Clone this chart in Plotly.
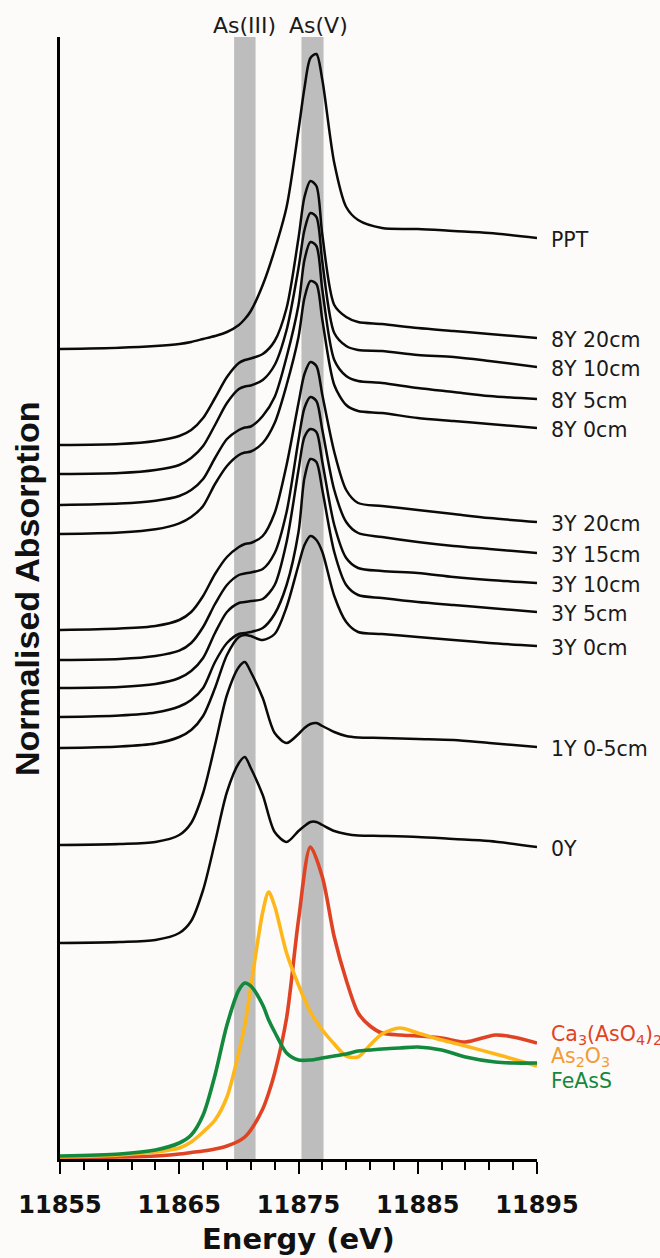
import plotly.graph_objects as go

# ---------------- data ----------------
energy = [11855, 11860, 11863, 11865, 11866, 11867, 11868, 11869, 11870, 11870.5,
          11871, 11872, 11873, 11874, 11875, 11875.5, 11876, 11876.5, 11877, 11878,
          11879, 11880, 11882, 11885, 11888, 11891, 11895]

ppt = [8.10, 8.113, 8.13, 8.15, 8.17, 8.20, 8.23, 8.27, 8.34, 8.40, 8.48, 8.74, 9.09, 9.52,
       10.29, 10.71, 11.01, 11.05, 10.79, 9.96, 9.52, 9.39, 9.31, 9.30, 9.28, 9.26, 9.21]
y8_20 = [7.14, 7.15, 7.18, 7.23, 7.29, 7.41, 7.61, 7.82, 7.96, 7.99, 8.005, 8.05, 8.18, 8.51,
         9.21, 9.62, 9.78, 9.73, 9.24, 8.54, 8.42, 8.37, 8.35, 8.31, 8.28, 8.25, 8.21]
y8_10 = [6.85, 6.86, 6.89, 6.94, 7.01, 7.13, 7.34, 7.56, 7.70, 7.725, 7.735, 7.79, 7.94, 8.29,
         8.91, 9.29, 9.46, 9.42, 8.97, 8.26, 8.13, 8.09, 8.08, 8.04, 8.02, 7.98, 7.92]
y8_5 = [6.54, 6.555, 6.583, 6.63, 6.69, 6.80, 7.01, 7.20, 7.29, 7.315, 7.325, 7.43, 7.62, 8.02,
        8.54, 8.99, 9.17, 9.13, 8.69, 7.99, 7.83, 7.78, 7.76, 7.71, 7.67, 7.63, 7.60]
y8_0 = [6.25, 6.265, 6.297, 6.357, 6.42, 6.53, 6.75, 6.93, 7.04, 7.065, 7.075, 7.16, 7.36, 7.74,
        8.22, 8.61, 8.78, 8.75, 8.39, 7.74, 7.54, 7.48, 7.46, 7.41, 7.38, 7.35, 7.31]
y3_20 = [5.29, 5.305, 5.33, 5.39, 5.47, 5.63, 5.85, 6.02, 6.12, 6.15, 6.16, 6.23, 6.46, 6.94,
         7.56, 7.85, 7.97, 7.93, 7.64, 7.07, 6.69, 6.56, 6.53, 6.49, 6.45, 6.41, 6.37]
y3_15 = [4.99, 5.00, 5.03, 5.083, 5.16, 5.32, 5.55, 5.74, 5.84, 5.855, 5.865, 5.90, 6.06, 6.47,
         7.19, 7.51, 7.62, 7.58, 7.29, 6.69, 6.37, 6.26, 6.22, 6.17, 6.13, 6.10, 6.06]
y3_10 = [4.71, 4.72, 4.75, 4.81, 4.88, 5.01, 5.26, 5.47, 5.56, 5.57, 5.58, 5.60, 5.74, 6.17,
         6.89, 7.22, 7.30, 7.27, 6.97, 6.34, 6.01, 5.91, 5.88, 5.86, 5.82, 5.79, 5.76]
y3_5 = [4.42, 4.435, 4.465, 4.525, 4.59, 4.71, 4.97, 5.16, 5.25, 5.26, 5.27, 5.31, 5.45, 5.74,
        6.27, 6.81, 7.00, 6.97, 6.69, 6.07, 5.74, 5.64, 5.61, 5.57, 5.54, 5.51, 5.47]
y3_0 = [4.11, 4.125, 4.155, 4.22, 4.29, 4.43, 4.71, 5.04, 5.22, 5.24, 5.23, 5.19, 5.25, 5.52,
        5.94, 6.14, 6.23, 6.19, 6.07, 5.63, 5.37, 5.27, 5.25, 5.22, 5.19, 5.16, 5.13]
y1_05 = [3.14, 3.15, 3.17, 3.24, 3.36, 3.66, 4.14, 4.64, 4.92, 4.97, 4.87, 4.61, 4.26, 4.16,
         4.25, 4.31, 4.35, 4.36, 4.33, 4.27, 4.23, 4.215, 4.21, 4.20, 4.19, 4.16, 4.12]
y0 = [2.16, 2.17, 2.19, 2.26, 2.38, 2.69, 3.17, 3.67, 3.96, 4.02, 3.91, 3.64, 3.27, 3.17,
      3.28, 3.33, 3.37, 3.37, 3.34, 3.28, 3.25, 3.235, 3.23, 3.22, 3.20, 3.18, 3.12]

sample_names = ["PPT", "8Y 20cm", "8Y 10cm", "8Y 5cm", "8Y 0cm", "3Y 20cm", "3Y 15cm",
                "3Y 10cm", "3Y 5cm", "3Y 0cm", "1Y 0-5cm", "0Y"]
sample_series = [ppt, y8_20, y8_10, y8_5, y8_0, y3_20, y3_15, y3_10, y3_5, y3_0, y1_05, y0]

ref_energy = [11855, 11860, 11863, 11865, 11866, 11867, 11868, 11869, 11870, 11870.5,
              11871, 11872, 11872.5, 11873, 11874, 11875, 11876, 11877, 11878, 11879,
              11880, 11881, 11882, 11883.5, 11885, 11887, 11889, 11891.5, 11893, 11895]
ca_arsenate = [0.01, 0.02, 0.03, 0.05, 0.065, 0.08, 0.10, 0.13, 0.18, 0.22, 0.29, 0.50, 0.66,
               0.86, 1.41, 2.39, 3.12, 2.82, 2.22, 1.79, 1.46, 1.33, 1.26, 1.24, 1.23, 1.21,
               1.17, 1.24, 1.22, 1.16]
as2o3 = [0.02, 0.04, 0.07, 0.11, 0.17, 0.27, 0.39, 0.62, 1.07, 1.34, 1.72, 2.47, 2.67, 2.53,
         2.06, 1.74, 1.47, 1.29, 1.15, 1.03, 1.02, 1.14, 1.25, 1.31, 1.26, 1.19, 1.13, 1.05,
         1.00, 0.93]
feass = [0.03, 0.05, 0.09, 0.16, 0.24, 0.44, 0.84, 1.34, 1.69, 1.76, 1.73, 1.54, 1.39, 1.27,
         1.06, 0.99, 0.99, 1.01, 1.03, 1.05, 1.08, 1.09, 1.10, 1.11, 1.12, 1.09, 1.02, 0.97,
         0.96, 0.96]

ref_names = ["Ca<sub>3</sub>(AsO<sub>4</sub>)<sub>2</sub>", "As<sub>2</sub>O<sub>3</sub>", "FeAsS"]
ref_series = [ca_arsenate, as2o3, feass]
ref_label_y = [1.24, 1.02, 0.78]
ref_colors = ["#DF4324", "#FDB71A", "#12893C"]
ref_label_colors = ["#DF4324", "#F39A37", "#12893C"]

band_names = ["As(III)", "As(V)"]
band_edges = [(11869.6, 11871.4), (11875.25, 11877.1)]
band_label_x = [11870.5, 11876.7]

x_ticks = [11855, 11865, 11875, 11885, 11895]

# ---------------- figure ----------------
fig = go.Figure()

for e0, e1 in band_edges:
    fig.add_shape(type="rect", xref="x", yref="paper", x0=e0, x1=e1, y0=0, y1=1,
                  fillcolor="#bdbdbd", line_width=0, layer="below")

LABEL_X = 1.0252  # just right of the plot area, in paper units

for name, ys in zip(sample_names, sample_series):
    fig.add_trace(go.Scatter(x=energy, y=ys, mode="lines", name=name, showlegend=False,
                             line=dict(color="#0a0a0a", width=2.5, shape="spline",
                                       smoothing=0.8),
                             hoverinfo="skip"))
    fig.add_annotation(x=LABEL_X, y=ys[-1] - 0.02, xref="paper", yref="y", text=name,
                       showarrow=False, xanchor="left", yanchor="middle",
                       font=dict(family="DejaVu Sans", size=20.5, color="#1a1a1a"))

for name, ys, col, ly, lcol in zip(ref_names, ref_series, ref_colors, ref_label_y,
                                   ref_label_colors):
    fig.add_trace(go.Scatter(x=ref_energy, y=ys, mode="lines", name=name, showlegend=False,
                             line=dict(color=col, width=3.6, shape="spline", smoothing=0.8),
                             hoverinfo="skip"))
    fig.add_annotation(x=LABEL_X, y=ly, xref="paper", yref="y", text=name, showarrow=False,
                       xanchor="left", yanchor="middle",
                       font=dict(family="DejaVu Sans", size=20.5, color=lcol))

for name, bx in zip(band_names, band_label_x):
    fig.add_annotation(x=bx, y=1.0105, xref="x", yref="paper", text=name, showarrow=False,
                       xanchor="center", yanchor="middle",
                       font=dict(family="DejaVu Sans", size=22, color="#1a1a1a"))

fig.add_annotation(x=0.5, y=-0.0715, xref="paper", yref="paper", text="Energy (eV)",
                   showarrow=False, xanchor="center", yanchor="middle",
                   font=dict(family="DejaVu Sans", size=29, color="#111111", weight="bold"))
fig.add_annotation(x=-0.069, y=0.508, xref="paper", yref="paper",
                   text="Normalised Absorption", textangle=-90, showarrow=False,
                   xanchor="center", yanchor="middle",
                   font=dict(family="Liberation Sans", size=34, color="#111111",
                             weight="bold"))

fig.update_layout(
    width=660, height=1258,
    margin=dict(l=60, r=123, t=37, b=99),
    paper_bgcolor="#fdfbfa", plot_bgcolor="#fdfbfa",
    xaxis=dict(range=[11855, 11895], tickmode="array", tickvals=x_ticks, tickformat="d",
               ticks="outside", ticklen=12, tickwidth=2.2, tickcolor="black",
               showline=True, linewidth=2.5, linecolor="black", showgrid=False,
               zeroline=False, ticklabelstandoff=10,
               tickfont=dict(family="DejaVu Sans", size=24, color="#111111",
                             weight="bold"),
               minor=dict(dtick=2, tick0=11855, ticks="outside", ticklen=8, tickwidth=2,
                          tickcolor="black", showgrid=False)),
    yaxis=dict(range=[0, 11.22], showline=True, linewidth=2.5, linecolor="black",
               ticks="", showticklabels=False, showgrid=False, zeroline=False),
)

fig.write_html("out.html", config={"displayModeBar": False},
               post_script="document.body.style.margin='0';document.body.style.padding='0';")
